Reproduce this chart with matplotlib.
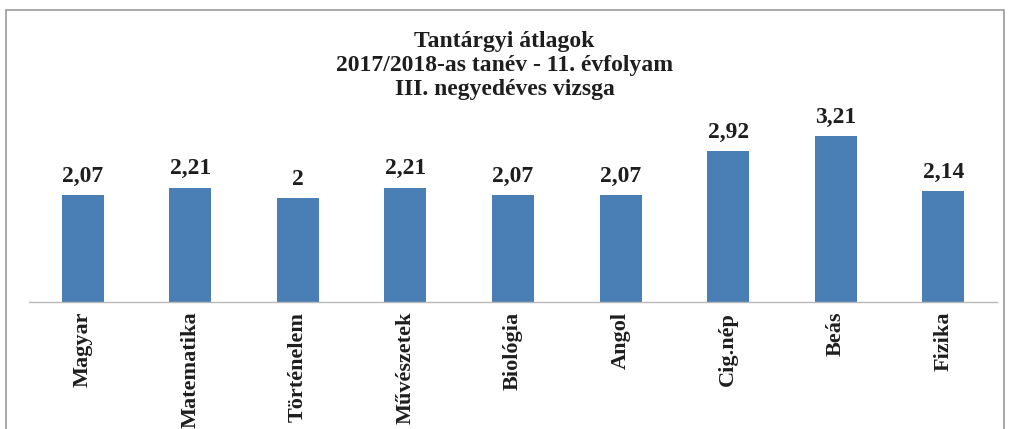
import matplotlib.pyplot as plt
from matplotlib.patches import Rectangle

# adatok (tantárgyi átlagok)
subjects = ["Magyar", "Matematika", "Történelem", "Művészetek", "Biológia",
            "Angol", "Cig.nép", "Beás", "Fizika"]
averages = [2.07, 2.21, 2.0, 2.21, 2.07, 2.07, 2.92, 3.21, 2.14]
value_labels = ["2,07", "2,21", "2", "2,21", "2,07", "2,07", "2,92", "3,21", "2,14"]

title_lines = ["Tantárgyi átlagok",
               "2017/2018-as tanév - 11. évfolyam",
               "III. negyedéves vizsga"]

bar_color = "#4a7fb6"
font = "Liberation Serif"

W, H = 1009, 429
fig = plt.figure(figsize=(W / 100, H / 100), dpi=100)
fig.patch.set_facecolor("white")

# keret
fig.patches.append(Rectangle((6 / W, -0.05), (1004 - 6) / W, 1.05 - 10 / H,
                             transform=fig.transFigure, fill=False,
                             edgecolor="#9a9a9a", linewidth=1.2))

ax = fig.add_axes([29 / W, (H - 302) / H, (997 - 29) / W, (302 - 110) / H])
x = range(len(subjects))
bars = ax.bar(x, averages, width=0.39, color=bar_color)

for rect, lab in zip(bars, value_labels):
    ax.annotate(lab, (rect.get_x() + rect.get_width() / 2, rect.get_height()),
                xytext=(0, 6), textcoords="offset points", ha="center",
                va="bottom", fontsize=17, fontweight="bold", family=font,
                color="#1e1e1e")

ax.set_xlim(-0.5, len(subjects) - 0.5)
ax.set_ylim(0, 3.71)
ax.set_xticks(list(x))
ax.set_xticklabels(subjects, rotation=90, fontsize=16, fontweight="bold",
                   family=font, color="#1e1e1e")
ax.tick_params(axis="x", length=0, pad=7)
ax.set_yticks([])
for side in ["top", "left", "right"]:
    ax.spines[side].set_visible(False)
ax.spines["bottom"].set_color("#b8b8b8")
ax.spines["bottom"].set_linewidth(1.0)

for i, line in enumerate(title_lines):
    fig.text(0.5, 1 - (42 + 23.5 * i) / H, line, ha="center", va="center",
             fontsize=17, fontweight="bold", family=font, color="#1e1e1e")

fig.savefig("out.png", dpi=100)
